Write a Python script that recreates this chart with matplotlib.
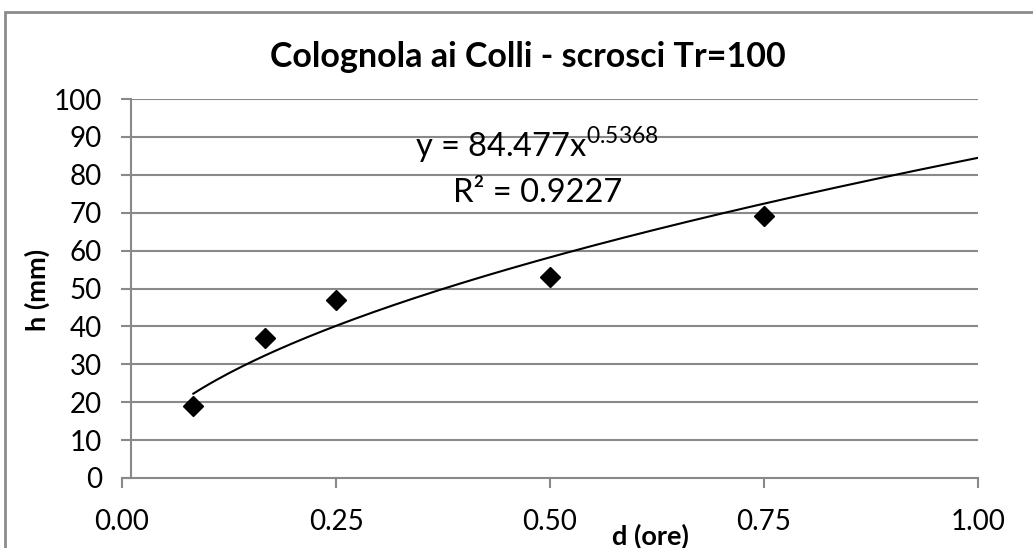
import numpy as np
import matplotlib
matplotlib.use("Agg")
import matplotlib.pyplot as plt
from matplotlib.patches import Rectangle

plt.rcParams['font.family'] = ['Lato', 'DejaVu Sans']
plt.rcParams['mathtext.fontset'] = 'custom'
plt.rcParams['mathtext.rm'] = 'Lato'

# dati: durata (ore) e altezza di pioggia (mm)
d_ore = [1 / 12, 1 / 6, 0.25, 0.5, 0.75]
h_mm = [19.0, 36.9, 47.0, 53.0, 69.1]

# linea di tendenza (potenza) come riportata nel grafico
coef_a = 84.477
coef_n = 0.5368
r2 = 0.9227

x_ticks = [0.0, 0.25, 0.5, 0.75, 1.0]
y_ticks = list(range(0, 101, 10))

W, H = 1033, 548
fig = plt.figure(figsize=(W / 100, H / 100), dpi=100)
ax = fig.add_axes([122 / W, 1 - 478 / H, (978 - 122) / W, (478 - 99) / H])

grey = '#898989'
for y in y_ticks[1:]:
    ax.axhline(y, xmin=0.0105, color=grey, lw=1.5, zorder=1)

xs = np.linspace(d_ore[0], 1.0, 200)
ax.plot(xs, coef_a * xs ** coef_n, color='black', lw=1.5, zorder=2)
ax.plot(d_ore, h_mm, 'D', color='black', ms=10, zorder=3)

ax.set_xlim(0, 1)
ax.set_ylim(0, 100)
ax.set_xticks(x_ticks)
ax.set_xticklabels([f'{v:.2f}' for v in x_ticks])
ax.set_yticks(y_ticks)
for s in ['top', 'right']:
    ax.spines[s].set_visible(False)
for s in ['left', 'bottom']:
    ax.spines[s].set_color(grey)
    ax.spines[s].set_linewidth(1.5)
# l'asse verticale incrocia poco a destra dello zero
ax.spines['left'].set_position(('data', 0.0105))
ax.tick_params(axis='x', length=7.5, width=1.5, color=grey, pad=15, labelsize=20)
ax.tick_params(axis='y', length=7, width=1.5, color=grey, pad=14, labelsize=20)

fig.text(415 / W, 1 - 157 / H, 'y = 84.477x$^{0.5368}$', fontsize=23.5,
         ha='left', va='baseline')
fig.text(453 / W, 1 - 202 / H, f'R² = {r2}', fontsize=23.5,
         ha='left', va='baseline')

fig.text(528 / W, 1 - 57 / H, 'Colognola ai Colli - scrosci Tr=100',
         fontsize=24.5, fontweight='bold', ha='center', va='center')
fig.text(612 / W, 1 - 524 / H, 'd (ore)', fontsize=19.5, fontweight='bold',
         ha='left', va='top')
fig.text(37 / W, 1 - 290 / H, 'h (mm)', fontsize=19.5, fontweight='bold',
         ha='center', va='center', rotation=90)

# cornice esterna del grafico
fig.patches.append(Rectangle((5 / W, -0.1), 1.2, 1 - 12 / H + 0.1,
                             transform=fig.transFigure, fill=False,
                             edgecolor='#8c8c8c', lw=2))

fig.savefig('out.png', dpi=100)
